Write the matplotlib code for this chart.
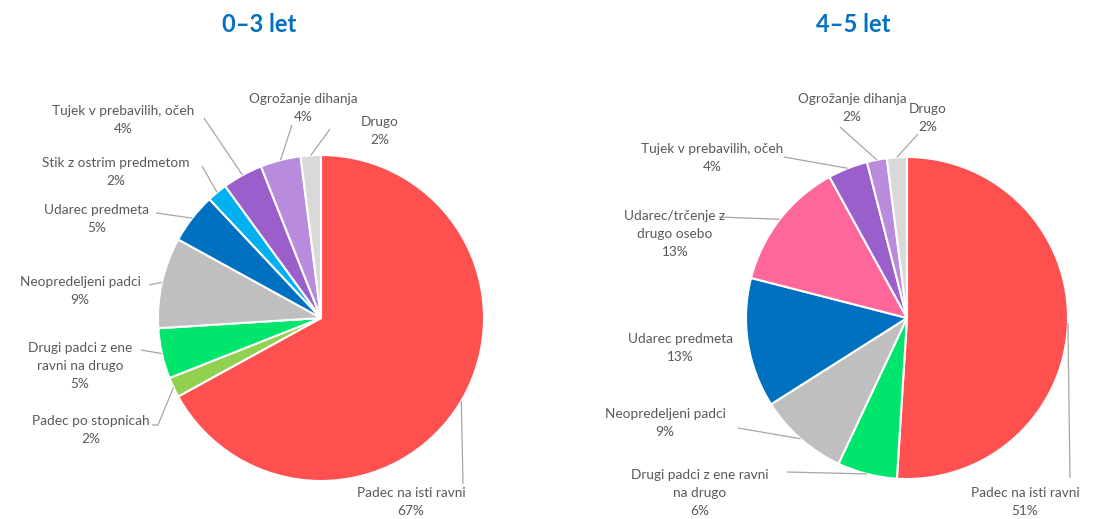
import matplotlib
matplotlib.use("Agg")
import matplotlib.pyplot as plt
import numpy as np

plt.rcParams['font.family'] = ['Lato', 'DejaVu Sans']

# podatki
labels_03 = ['Padec na isti ravni', 'Padec po stopnicah', 'Drugi padci z ene\nravni na drugo',
             'Neopredeljeni padci', 'Udarec predmeta', 'Stik z ostrim predmetom',
             'Tujek v prebavilih, očeh', 'Ogrožanje dihanja', 'Drugo']
values_03 = [67, 2, 5, 9, 5, 2, 4, 4, 2]
colors_03 = ['#FF5050', '#92D050', '#00E56B', '#BFBFBF', '#0070C0', '#00B0F0',
             '#9B5FCB', '#B88BDC', '#D9D9D9']

labels_45 = ['Padec na isti ravni', 'Drugi padci z ene ravni\nna drugo', 'Neopredeljeni padci',
             'Udarec predmeta', 'Udarec/trčenje z\ndrugo osebo', 'Tujek v prebavilih, očeh',
             'Ogrožanje dihanja', 'Drugo']
values_45 = [51, 6, 9, 13, 13, 4, 2, 2]
colors_45 = ['#FF5050', '#00E56B', '#BFBFBF', '#0070C0', '#FF6699', '#9B5FCB',
             '#B88BDC', '#D9D9D9']

# postavitev oznak (pixel): sredina besedila, konec črte (None = brez črte), kratek vodoravni del
layout_03 = [((411, 502), (463, 484), 0), ((91, 430), (158, 425), -6), ((80, 366), (141, 350), 0),
             ((80, 291), (149, 285), 0), ((97, 219), (156, 213), 0), ((116, 172), (202, 166), 0),
             ((123, 120), (204, 118), 0), ((303, 108), (292, 125), 0), ((380, 131), (330, 129), 0)]
layout_45 = [((1025, 502), (1070, 478), 0), ((700, 493), (787, 472), 0), ((665, 423), (738, 428), 0),
             ((680, 348), None, 0), ((675, 234), (719, 217), 0), ((712, 158), (784, 157), 0),
             ((852, 108), (840, 127), 0), ((928, 118), (918, 134), 0)]

fig = plt.figure(figsize=(10.94, 5.19), dpi=100)
ax = fig.add_axes([0, 0, 1, 1])

text_color = '#595959'
line_color = '#A6A6A6'


def draw_pie(center, radius, values, colors, labels, layout, title, title_x):
    wedges, _ = ax.pie(values, colors=colors, center=center, radius=radius,
                       startangle=-90, counterclock=True, normalize=True,
                       wedgeprops=dict(edgecolor='white', linewidth=1.5))
    for w, lab, v, (tpos, lend, stub) in zip(wedges, labels, values, layout):
        ang = np.deg2rad((w.theta1 + w.theta2) / 2)
        px = center[0] + radius * np.cos(ang)
        py = center[1] + radius * np.sin(ang)
        ax.text(tpos[0], tpos[1], f'{lab}\n{v}%', ha='center', va='center',
                fontsize=9.8, color=text_color, linespacing=1.6)
        if lend is not None:
            xs = [px, lend[0]]
            ys = [py, lend[1]]
            if stub:
                xs.append(lend[0] + stub)
                ys.append(lend[1])
            ax.plot(xs, ys, color=line_color, lw=0.9, solid_capstyle='butt')
    ax.text(title_x, 25, title, ha='center', va='center', fontsize=17,
            fontweight='bold', color='#0070C0')


draw_pie((321, 318), 163, values_03, colors_03, labels_03, layout_03, '0–3 let', 259)
draw_pie((907, 318), 161, values_45, colors_45, labels_45, layout_45, '4–5 let', 853)

ax.set_xlim(0, 1094)
ax.set_ylim(519, 0)
ax.set_aspect('equal')
ax.axis('off')

fig.savefig('out.png', dpi=100)
